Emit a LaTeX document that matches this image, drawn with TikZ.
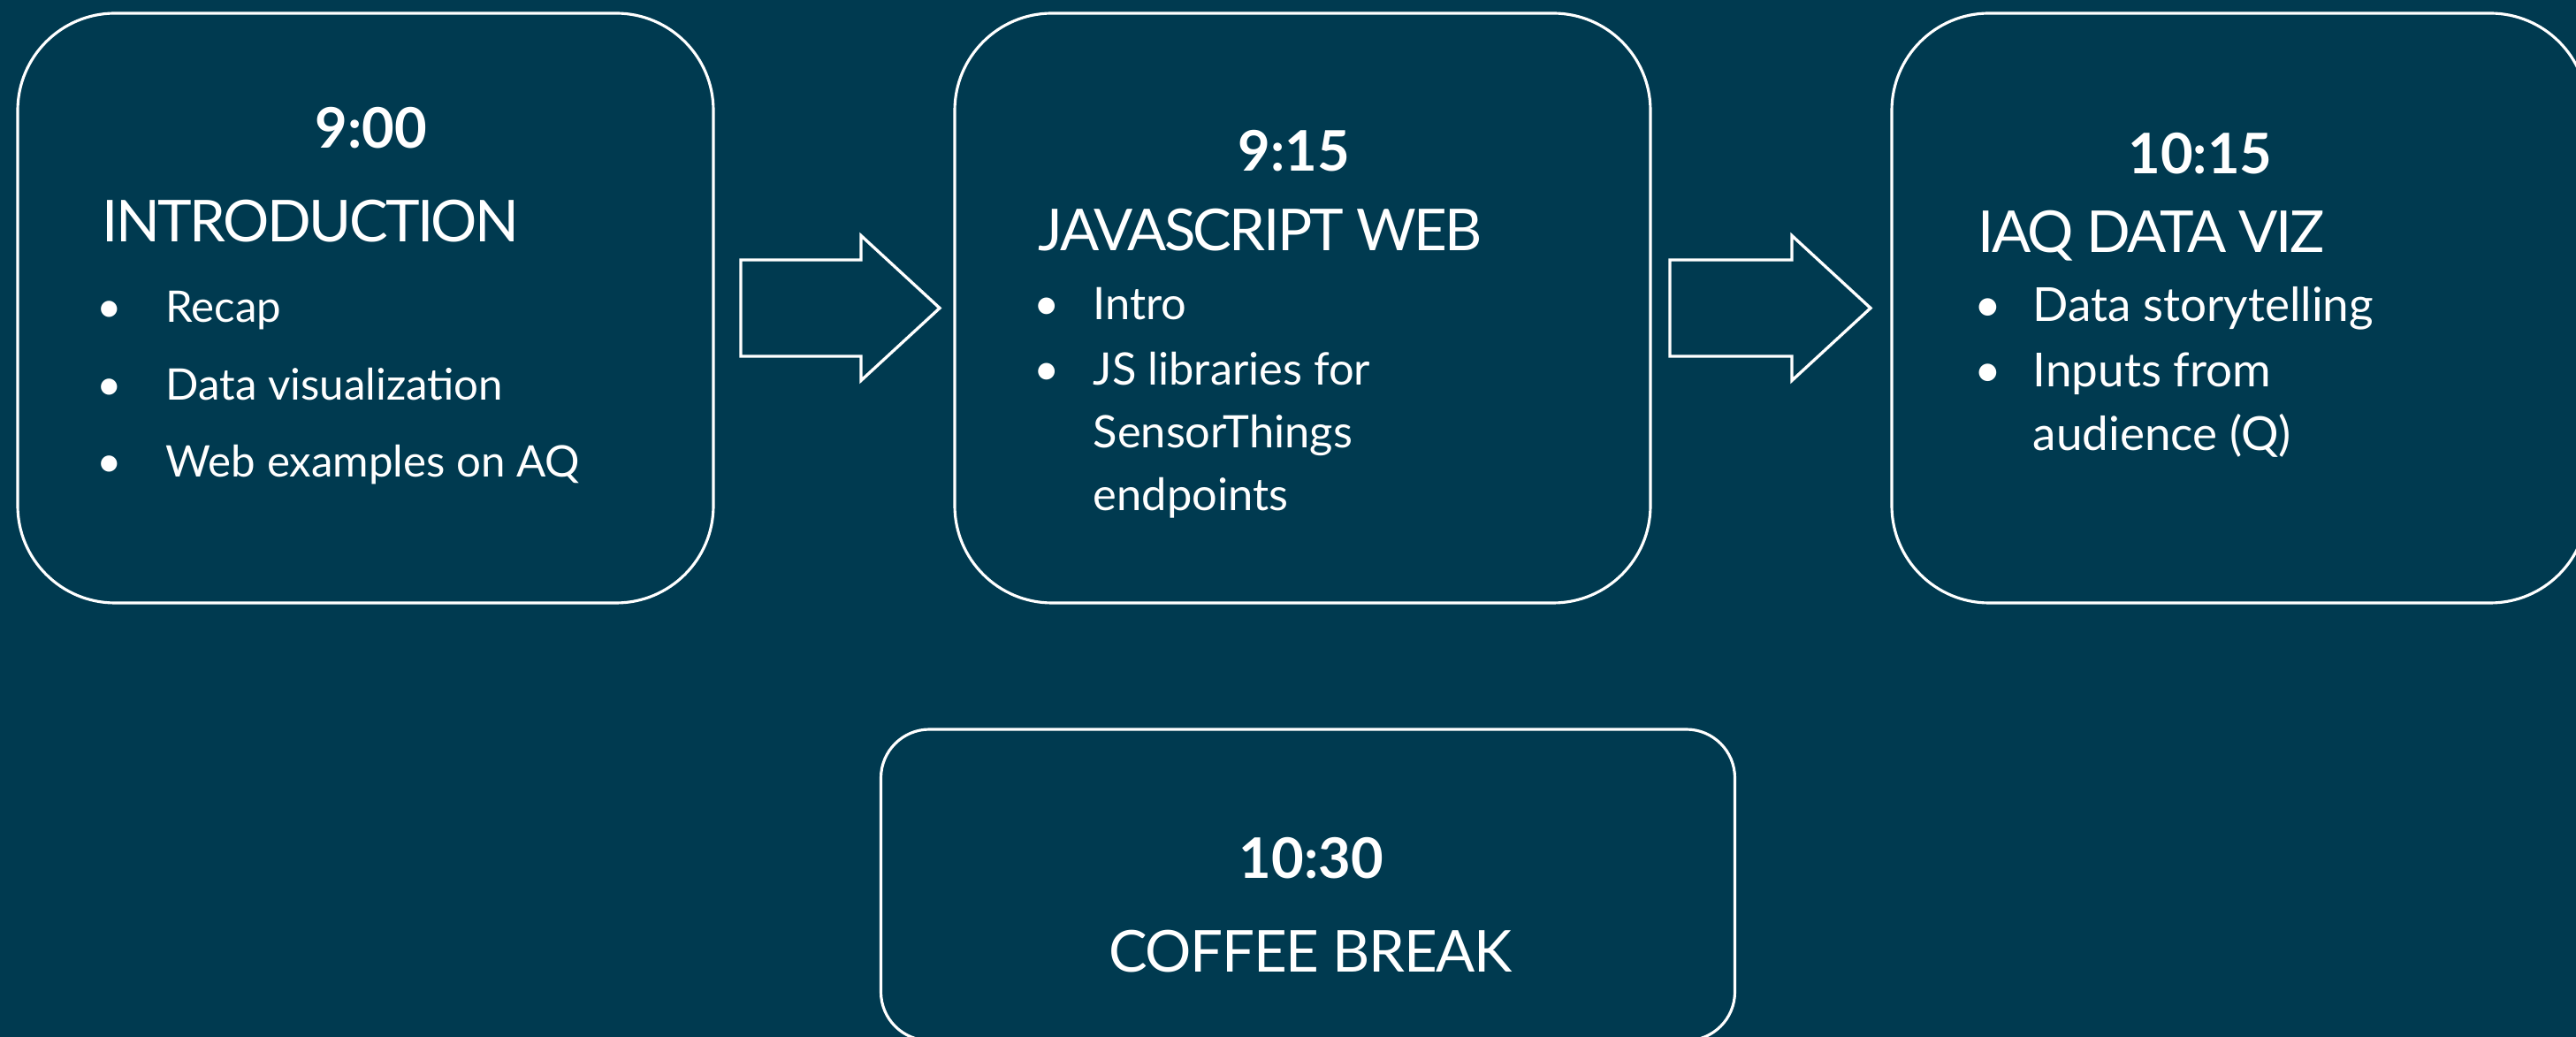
\documentclass[tikz,border=0pt]{standalone}
\usepackage{fontspec}
\setmainfont{Lato}
\newfontfamily\tightlato{Lato}[LetterSpace=-4]
\newfontfamily\semitightlato{Lato}[LetterSpace=-2]
\usetikzlibrary{positioning}
\definecolor{bgteal}{RGB}{0,58,80}

\begin{document}
\begin{tikzpicture}[
  % session boxes
  slot/.style={draw=white, line width=0.9pt, rounded corners=1.1cm, minimum width=7.87cm, minimum height=6.67cm, inner sep=0pt, outer sep=0pt},
  % block arrows between the sessions
  bigarrow/.style={draw=white, line width=0.95pt},
  % texts
  timetxt/.style={text=white, anchor=base, inner sep=0pt, font=\fontsize{18pt}{22pt}\selectfont\bfseries},
  titletxt/.style={text=white, anchor=base west, inner sep=0pt, font=\fontsize{18.6pt}{22pt}\tightlato},
  itemtxt/.style={text=white, anchor=base west, inner sep=0pt, font=\fontsize{14pt}{16pt}\selectfont},
  dot/.style={text=white, anchor=base, inner sep=0pt, font=\fontsize{14pt}{16pt}\selectfont}
  ]

  % --- page ---
  \useasboundingbox (0,0) rectangle (29.14,-11.73);
  \clip (0,0) rectangle (29.14,-11.73);
  \fill[bgteal] (0,0) rectangle (29.14,-11.73);

  % --- boxes ---
  \node[slot] (intro) at (4.135,-3.485) {};
  \node[slot, right=2.73cm of intro] (jsweb) {};
  \node[slot, right=2.73cm of jsweb] (iaqviz) {};
  \node[slot, minimum width=9.66cm, minimum height=3.52cm, rounded corners=0.55cm, below=1.43cm of jsweb, xshift=0.06cm] (coffee) {};

  % --- arrows ---
  \foreach \from/\gap/\shaft [count=\i] in {intro/0.31/1.36, jsweb/0.22/1.38} {
    \coordinate[right=\gap cm of \from] (arr\i);
    \draw[bigarrow] (arr\i) ++(0,0.545) -- ++(\shaft,0) -- ++(0,0.275) -- ++(0.89,-0.82)
      -- ++(-0.89,-0.82) -- ++(0,0.275) -- ++(-\shaft,0) -- cycle;
  }

  % --- 9:00 ---
  \node[timetxt] (intro-time) at ([shift={(4.00,-1.53)}]intro.north west) {9:00};
  \node[titletxt] (intro-title) at ([shift={(0.95,-2.59)}]intro.north west) {INTRODUCTION};
  \foreach \y/\txt [count=\i] in {3.50/Recap, 4.38/Data visualization, 5.25/Web examples on AQ} {
    \node[dot] (intro-b\i) at ([shift={(1.04,-\y)}]intro.north west) {\textbullet};
    \node[itemtxt] (intro-i\i) at ([shift={(1.67,-\y)}]intro.north west) {\txt};
  }

  % --- 9:15 ---
  \node[timetxt] (jsweb-time) at ([shift={(3.84,-1.79)}]jsweb.north west) {9:15};
  \node[titletxt] (jsweb-title) at ([shift={(0.94,-2.69)}]jsweb.north west) {JAVASCRIPT WEB};
  \foreach \y [count=\i] in {3.47, 4.21}
    \node[dot, font=\fontsize{14.4pt}{16pt}\selectfont] (jsweb-b\i) at ([shift={(1.04,-\y)}]jsweb.north west) {\textbullet};
  \foreach \y/\txt [count=\i] in {3.47/Intro, 4.21/JS libraries for, 4.92/SensorThings, 5.63/endpoints}
    \node[itemtxt, font=\fontsize{14.4pt}{16pt}\selectfont] (jsweb-i\i) at ([shift={(1.56,-\y)}]jsweb.north west) {\txt};

  % --- 10:15 ---
  \node[timetxt] (iaqviz-time) at ([shift={(3.49,-1.82)}]iaqviz.north west) {10:15};
  \node[titletxt] (iaqviz-title) at ([shift={(0.97,-2.71)}]iaqviz.north west) {IAQ DATA VIZ};
  \foreach \y [count=\i] in {3.49, 4.23}
    \node[dot, font=\fontsize{15.1pt}{16pt}\selectfont] (iaqviz-b\i) at ([shift={(1.09,-\y)}]iaqviz.north west) {\textbullet};
  \foreach \y/\txt [count=\i] in {3.49/Data storytelling, 4.23/Inputs from, 4.95/audience (Q)}
    \node[itemtxt, font=\fontsize{15.1pt}{16pt}\selectfont] (iaqviz-i\i) at ([shift={(1.59,-\y)}]iaqviz.north west) {\txt};

  % --- 10:30 ---
  \node[timetxt] (coffee-time) at ([shift={(0.04,-1.69)}]coffee.north) {10:30};
  \node[titletxt, anchor=base, font=\fontsize{18.6pt}{22pt}\semitightlato] (coffee-title) at ([shift={(0.03,-2.75)}]coffee.north) {COFFEE BREAK};

\end{tikzpicture}
\end{document}
